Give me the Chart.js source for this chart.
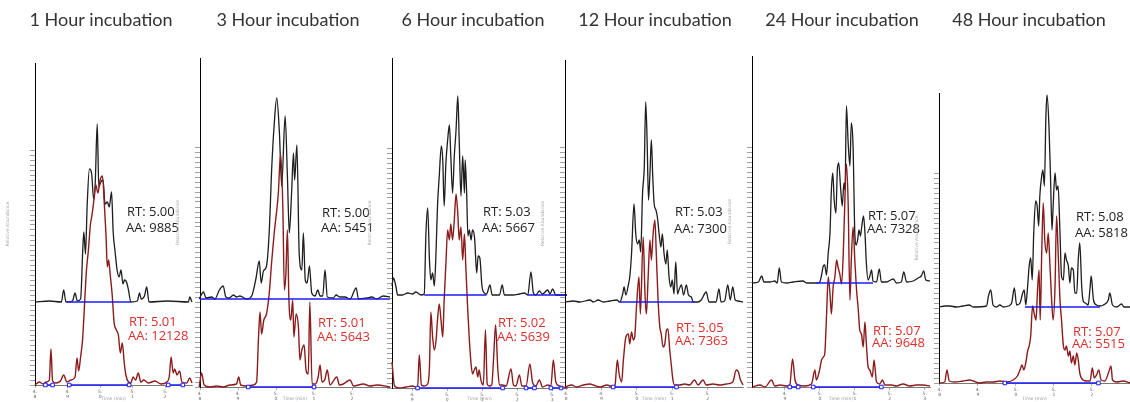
<!DOCTYPE html>
<html>
<head>
<meta charset="utf-8">
<script src="https://cdn.jsdelivr.net/npm/chart.js@4.4.1/dist/chart.umd.min.js"></script>
<style>
    html, body { margin: 0; padding: 0; background: #fff; overflow: hidden; }
    #wrap { position: relative; width: 1130px; height: 402px; overflow: hidden; }
    #wrap canvas { position: absolute; top: 0; }
</style>
</head>
<body>
<div id="wrap"></div>
<script>
// ---- data ----
const panelTitles = ['1 Hour incubation', '3 Hour incubation', '6 Hour incubation',
                     '12 Hour incubation', '24 Hour incubation', '48 Hour incubation'];
const rtBlack = ['5.00', '5.00', '5.03', '5.03', '5.07', '5.08'];
const aaBlack = ['9885', '5451', '5667', '7300', '7328', '5818'];
const rtRed = ['5.01', '5.01', '5.02', '5.05', '5.07', '5.07'];
const aaRed = ['12128', '5643', '5639', '7363', '9648', '5515'];
const xTickLabels = ['4.8', '4.9', '5.0', '5.1', '5.2', '5.3'];

// time range (min) shown in each panel
const xRanges = [[4.80, 5.282], [4.80, 5.30], [4.842, 5.342], [4.797, 5.30], [4.806, 5.315], [4.798, 5.30]];

// traces: [time (min), intensity]
const p1Black = [[4.800,0],[4.844,1],[4.881,0],[4.888,12],[4.895,0],[4.915,1],[4.923,9],[4.930,1],[4.940,3],[4.947,55],[4.950,70],[4.955,48],[4.960,95],[4.967,133],[4.974,128],[4.980,103],[4.985,120],[4.991,178],[4.996,115],[5.002,120],[5.009,122],[5.015,98],[5.022,100],[5.028,95],[5.035,110],[5.040,70],[5.046,50],[5.052,32],[5.058,25],[5.064,32],[5.070,18],[5.075,22],[5.081,20],[5.087,12],[5.094,0],[5.114,1],[5.121,9],[5.126,3],[5.136,6],[5.143,15],[5.150,0],[5.207,1],[5.271,0],[5.275,5],[5.282,0]];
const p1Red = [[4.800,0],[4.813,3],[4.825,1],[4.834,3],[4.844,5],[4.849,36],[4.854,4],[4.864,2],[4.878,4],[4.888,10],[4.898,3],[4.911,5],[4.923,8],[4.929,27],[4.934,14],[4.940,28],[4.946,45],[4.952,80],[4.958,115],[4.964,135],[4.970,160],[4.975,170],[4.981,185],[4.987,200],[4.993,192],[5.000,205],[5.007,209],[5.013,180],[5.018,150],[5.022,118],[5.026,125],[5.031,110],[5.037,90],[5.043,62],[5.050,55],[5.056,50],[5.062,32],[5.068,42],[5.074,22],[5.079,10],[5.087,3],[5.094,2],[5.101,8],[5.109,5],[5.117,12],[5.125,3],[5.134,5],[5.148,2],[5.168,4],[5.187,1],[5.205,3],[5.212,8],[5.218,28],[5.224,12],[5.229,16],[5.236,10],[5.244,14],[5.251,3],[5.266,2],[5.275,7],[5.282,2]];

const p2Black = [[4.798,0],[4.809,7],[4.816,1],[4.831,2],[4.839,0],[4.851,9],[4.861,13],[4.868,2],[4.877,1],[4.888,4],[4.896,2],[4.905,3],[4.923,0],[4.936,3],[4.947,20],[4.956,38],[4.961,16],[4.967,28],[4.975,33],[4.982,66],[4.989,133],[4.995,173],[5.002,201],[5.009,166],[5.015,113],[5.024,183],[5.030,123],[5.035,66],[5.041,106],[5.046,146],[5.049,119],[5.055,154],[5.061,46],[5.068,29],[5.072,66],[5.077,19],[5.082,16],[5.088,33],[5.094,6],[5.103,3],[5.110,9],[5.116,3],[5.123,3],[5.129,29],[5.135,2],[5.151,1],[5.158,4],[5.168,2],[5.182,2],[5.195,0],[5.211,11],[5.217,0],[5.239,1],[5.252,2],[5.265,0],[5.282,3],[5.300,2]];
const p2Red = [[4.798,0],[4.804,14],[4.811,2],[4.826,0],[4.844,1],[4.861,0],[4.879,2],[4.896,3],[4.902,10],[4.907,2],[4.923,1],[4.940,2],[4.949,5],[4.954,50],[4.958,75],[4.962,53],[4.968,67],[4.975,73],[4.982,93],[4.989,127],[4.995,153],[5.000,170],[5.006,193],[5.012,233],[5.018,180],[5.022,97],[5.026,113],[5.030,157],[5.034,87],[5.039,67],[5.044,87],[5.047,50],[5.053,73],[5.059,60],[5.063,27],[5.068,37],[5.074,42],[5.079,17],[5.085,13],[5.089,85],[5.095,3],[5.103,3],[5.111,10],[5.116,22],[5.121,5],[5.129,8],[5.135,17],[5.142,2],[5.160,10],[5.167,2],[5.177,3],[5.195,7],[5.204,1],[5.230,3],[5.247,1],[5.265,2],[5.300,0]];

const p3Black = [[4.842,9],[4.846,17],[4.853,9],[4.858,0],[4.872,0],[4.887,2],[4.901,1],[4.910,3],[4.925,0],[4.934,1],[4.939,62],[4.944,87],[4.949,35],[4.953,15],[4.958,22],[4.963,9],[4.968,45],[4.972,89],[4.977,119],[4.983,149],[4.987,135],[4.991,89],[4.996,132],[5.001,155],[5.006,170],[5.010,139],[5.015,102],[5.020,139],[5.025,165],[5.030,199],[5.034,155],[5.039,99],[5.044,139],[5.049,102],[5.051,135],[5.055,105],[5.059,59],[5.063,65],[5.068,55],[5.072,65],[5.078,57],[5.084,22],[5.088,39],[5.093,37],[5.099,9],[5.106,2],[5.112,1],[5.122,10],[5.128,0],[5.149,0],[5.157,10],[5.163,0],[5.187,0],[5.206,1],[5.220,2],[5.230,0],[5.239,23],[5.246,2],[5.253,0],[5.263,4],[5.272,1],[5.287,5],[5.293,1],[5.301,6],[5.310,0],[5.342,0]];
const p3Red = [[4.842,26],[4.849,2],[4.863,0],[4.882,1],[4.901,2],[4.915,0],[4.920,33],[4.926,3],[4.934,2],[4.944,4],[4.949,21],[4.953,76],[4.958,51],[4.963,38],[4.968,48],[4.972,68],[4.977,84],[4.982,68],[4.987,51],[4.991,88],[4.996,124],[5.001,158],[5.006,148],[5.010,164],[5.015,148],[5.020,168],[5.025,194],[5.030,174],[5.034,148],[5.039,161],[5.044,128],[5.049,154],[5.053,121],[5.058,81],[5.063,48],[5.068,24],[5.072,14],[5.077,18],[5.082,21],[5.087,11],[5.091,18],[5.096,8],[5.103,3],[5.109,58],[5.114,4],[5.120,2],[5.127,3],[5.132,28],[5.138,63],[5.144,21],[5.149,3],[5.158,3],[5.168,2],[5.182,19],[5.189,3],[5.196,2],[5.206,13],[5.213,2],[5.225,2],[5.236,24],[5.244,5],[5.253,2],[5.263,8],[5.272,1],[5.287,3],[5.296,2],[5.303,28],[5.310,6],[5.320,2],[5.342,0]];

const p4Black = [[4.797,0],[4.821,1],[4.839,0],[4.868,2],[4.877,0],[4.891,2],[4.905,0],[4.924,1],[4.943,2],[4.952,0],[4.960,8],[4.964,15],[4.969,7],[4.976,17],[4.980,25],[4.985,48],[4.992,98],[4.997,68],[5.002,58],[5.007,62],[5.011,50],[5.016,108],[5.021,135],[5.025,200],[5.029,162],[5.033,102],[5.037,128],[5.041,162],[5.045,125],[5.049,98],[5.054,92],[5.058,85],[5.063,68],[5.068,55],[5.072,68],[5.077,48],[5.082,38],[5.086,52],[5.091,25],[5.096,15],[5.100,22],[5.105,8],[5.110,40],[5.115,8],[5.119,12],[5.126,17],[5.132,7],[5.140,17],[5.146,7],[5.154,5],[5.159,0],[5.173,0],[5.182,2],[5.196,10],[5.204,0],[5.224,0],[5.232,13],[5.238,0],[5.248,1],[5.257,17],[5.264,2],[5.271,15],[5.278,2],[5.285,1],[5.300,0]];
const p4Red = [[4.797,0],[4.816,2],[4.830,0],[4.849,2],[4.868,3],[4.877,2],[4.896,0],[4.915,2],[4.933,0],[4.938,1],[4.945,27],[4.950,13],[4.957,5],[4.962,27],[4.969,50],[4.976,53],[4.980,43],[4.985,55],[4.990,47],[4.994,50],[4.999,80],[5.006,110],[5.010,73],[5.018,150],[5.023,93],[5.027,73],[5.032,110],[5.037,147],[5.041,127],[5.046,153],[5.051,167],[5.055,133],[5.060,87],[5.065,60],[5.069,53],[5.074,40],[5.079,43],[5.084,57],[5.088,58],[5.093,37],[5.098,20],[5.102,7],[5.107,2],[5.121,2],[5.135,3],[5.149,2],[5.163,7],[5.173,2],[5.187,7],[5.196,2],[5.215,3],[5.234,2],[5.253,3],[5.271,5],[5.281,17],[5.287,15],[5.292,8],[5.300,2]];

const p5Black = [[4.807,0],[4.824,1],[4.834,7],[4.840,1],[4.857,1],[4.871,2],[4.878,0],[4.884,15],[4.890,1],[4.905,0],[4.924,1],[4.952,2],[4.962,0],[4.990,0],[5.000,1],[5.005,8],[5.010,17],[5.014,18],[5.019,8],[5.024,30],[5.029,50],[5.033,93],[5.037,110],[5.041,83],[5.046,70],[5.050,113],[5.054,120],[5.059,97],[5.064,77],[5.069,100],[5.072,93],[5.076,177],[5.081,140],[5.086,117],[5.090,160],[5.095,137],[5.100,50],[5.104,38],[5.108,43],[5.112,53],[5.116,47],[5.120,57],[5.125,67],[5.129,50],[5.133,20],[5.138,3],[5.143,7],[5.148,13],[5.152,2],[5.162,1],[5.170,14],[5.176,1],[5.190,1],[5.210,4],[5.219,0],[5.233,1],[5.240,11],[5.248,1],[5.267,2],[5.281,5],[5.290,7],[5.297,12],[5.303,3],[5.315,2]];
const p5Red = [[4.807,0],[4.829,2],[4.843,0],[4.862,7],[4.871,1],[4.886,2],[4.905,1],[4.914,2],[4.922,28],[4.929,7],[4.938,2],[4.957,1],[4.976,3],[4.986,17],[4.990,7],[4.998,15],[5.005,27],[5.010,30],[5.014,33],[5.019,70],[5.024,110],[5.029,93],[5.033,73],[5.038,100],[5.043,110],[5.048,127],[5.052,120],[5.057,113],[5.062,103],[5.067,133],[5.071,180],[5.076,223],[5.081,183],[5.086,87],[5.090,127],[5.095,160],[5.100,127],[5.105,97],[5.110,77],[5.114,57],[5.119,53],[5.124,40],[5.129,65],[5.133,43],[5.138,20],[5.143,17],[5.150,10],[5.155,27],[5.162,5],[5.171,3],[5.179,7],[5.186,2],[5.205,2],[5.219,1],[5.238,3],[5.257,1],[5.276,2],[5.295,2],[5.315,1]];

const p6Black = [[4.798,0],[4.813,1],[4.826,1],[4.844,0],[4.861,1],[4.877,2],[4.888,0],[4.923,1],[4.928,11],[4.934,17],[4.940,2],[4.949,0],[4.958,2],[4.967,0],[4.980,1],[4.989,4],[4.996,19],[5.002,2],[5.011,4],[5.018,14],[5.022,17],[5.026,2],[5.031,21],[5.035,41],[5.039,49],[5.043,27],[5.047,74],[5.052,106],[5.056,101],[5.060,81],[5.063,111],[5.068,131],[5.071,137],[5.075,121],[5.079,191],[5.082,212],[5.087,181],[5.091,131],[5.095,77],[5.098,101],[5.103,134],[5.107,117],[5.111,121],[5.116,74],[5.120,31],[5.125,27],[5.129,54],[5.133,47],[5.138,41],[5.142,24],[5.146,39],[5.151,37],[5.155,14],[5.160,14],[5.164,47],[5.168,64],[5.173,21],[5.177,6],[5.183,4],[5.190,2],[5.195,19],[5.198,31],[5.204,7],[5.212,2],[5.221,1],[5.230,2],[5.243,7],[5.247,14],[5.254,2],[5.265,0],[5.278,3],[5.284,0],[5.300,0]];
const p6Red = [[4.798,0],[4.813,1],[4.819,13],[4.825,2],[4.839,1],[4.861,2],[4.879,3],[4.888,2],[4.905,0],[4.923,1],[4.940,1],[4.958,2],[4.975,1],[4.993,3],[5.004,7],[5.011,13],[5.016,18],[5.021,13],[5.026,20],[5.031,32],[5.035,37],[5.039,47],[5.044,77],[5.048,70],[5.053,63],[5.057,93],[5.061,113],[5.064,63],[5.068,130],[5.072,180],[5.076,143],[5.081,130],[5.085,150],[5.089,123],[5.094,83],[5.098,63],[5.103,97],[5.107,167],[5.111,133],[5.116,83],[5.120,63],[5.125,37],[5.129,33],[5.133,37],[5.138,27],[5.142,32],[5.146,20],[5.151,27],[5.155,18],[5.160,30],[5.164,23],[5.168,10],[5.177,3],[5.186,2],[5.195,2],[5.201,15],[5.206,5],[5.212,8],[5.218,13],[5.224,3],[5.234,2],[5.245,12],[5.250,17],[5.254,3],[5.265,1],[5.282,2],[5.300,0]];

// integration baselines: [start, end] in min
const blackBaselines = [
    [[4.898, 5.094]],
    [[4.80, 5.30]],
    [[4.934, 5.112], [5.230, 5.342]],
    [[4.952, 5.163]],
    [[4.990, 5.152]],
    [[5.024, 5.221]]
];
const redBaselines = [
    [[4.832, 4.854], [4.905, 5.089], [5.209, 5.254]],
    [[4.927, 5.100]],
    [[4.915, 5.158], [5.225, 5.249], [5.296, 5.325]],
    [[4.933, 5.112]],
    [[4.914, 4.938], [4.981, 5.176]],
    [[4.971, 5.217]]
];

const blackTraces = [p1Black, p2Black, p3Black, p4Black, p5Black, p6Black];
const redTraces = [p1Red, p2Red, p3Red, p4Red, p5Red, p6Red];

// ---- page layout (pixels) ----
const panelBox = [
    { axisX: 35,  top: 63, blackBase: 302, redBase: 385, right: 197,  titleX: 101,  noteB: [127, 212, 228], noteR: [129, 322, 336] },
    { axisX: 200, top: 58, blackBase: 299, redBase: 387, right: 390,  titleX: 288,  noteB: [322, 213, 228], noteR: [318, 323, 337] },
    { axisX: 392, top: 58, blackBase: 295, redBase: 388, right: 567,  titleX: 473,  noteB: [483, 212, 228], noteR: [498, 323, 337] },
    { axisX: 565, top: 60, blackBase: 302, redBase: 387, right: 743,  titleX: 655,  noteB: [675, 212, 229], noteR: [676, 328, 341] },
    { axisX: 752, top: 56, blackBase: 283, redBase: 387, right: 930,  titleX: 842,  noteB: [868, 216, 229], noteR: [873, 331, 343] },
    { axisX: 939, top: 93, blackBase: 307, redBase: 383, right: 1130, titleX: 1029, noteB: [1076, 217, 233], noteR: [1073, 332, 344] }
];
const H = 402;

Chart.defaults.font.family = 'Lato';

/**
 * turns [start, end] pairs into line points with a gap between segments
 */
function segments_to_points(segs) {
    let pts = [];
    for (let s of segs) {
        pts.push({x: s[0], y: 0}, {x: s[1], y: 0}, {x: s[1], y: null});
    }
    return pts;
}

// draws the RT / AA notes next to the peaks
const notePlugin = {
    id: 'notes',
    afterDatasetsDraw(chart, args, opts) {
        const ctx = chart.ctx;
        ctx.save();
        ctx.font = '13px "Open Sans"';
        ctx.textBaseline = 'middle';
        ctx.textAlign = 'left';
        for (let l of opts.lines) {
            ctx.fillStyle = l.color;
            ctx.fillText(l.text, l.x - opts.offset, l.y);
        }
        ctx.restore();
    }
};

const wrap = document.getElementById('wrap');

for (let i = 0; i < 6; i++) {
    const box = panelBox[i];
    // canvas spans so that the title is centred on titleX
    let cl = box.axisX - 25;
    let cr = 2 * box.titleX - cl;
    if (cr < box.right) {
        cr = box.right;
        cl = 2 * box.titleX - cr;
    }
    const yW = box.axisX - cl;
    const padR = cr - box.right;

    const canv = document.createElement('canvas');
    canv.width = cr - cl;
    canv.height = H;
    canv.style.left = cl + 'px';
    canv.style.width = (cr - cl) + 'px';
    canv.style.height = H + 'px';
    wrap.appendChild(canv);

    const notes = [
        {text: 'RT: ' + rtBlack[i], x: box.noteB[0], y: box.noteB[1], color: '#222'},
        {text: 'AA: ' + aaBlack[i], x: box.noteB[0] - 1, y: box.noteB[2], color: '#222'},
        {text: 'RT: ' + rtRed[i], x: box.noteR[0], y: box.noteR[1], color: '#dd2e2a'},
        {text: 'AA: ' + aaRed[i], x: box.noteR[0] - 1, y: box.noteR[2], color: '#dd2e2a'}
    ];

    new Chart(canv.getContext('2d'), {
        type: 'line',
        data: {
            datasets: [{
                data: segments_to_points(redBaselines[i]),
                yAxisID: 'y',
                borderColor: '#1a1aff',
                borderWidth: 1.6,
                pointStyle: 'rect',
                pointRadius: 2.5,
                pointBorderColor: '#1a1aff',
                pointBackgroundColor: '#fff',
                pointBorderWidth: 1,
                spanGaps: false,
                clip: 6,
                order: 0
            }, {
                data: segments_to_points(blackBaselines[i]),
                yAxisID: 'yB',
                borderColor: '#1a1aff',
                borderWidth: 1.3,
                pointRadius: 0,
                spanGaps: false,
                clip: 4,
                order: 0
            }, {
                data: redTraces[i].map(p => ({x: p[0], y: p[1]})),
                yAxisID: 'y',
                borderColor: '#8c1c1c',
                borderWidth: 1.4,
                pointRadius: 0,
                cubicInterpolationMode: 'monotone',
                clip: 4,
                order: 1
            }, {
                data: blackTraces[i].map(p => ({x: p[0], y: p[1]})),
                yAxisID: 'yB',
                borderColor: '#1e1e1e',
                borderWidth: 1.3,
                pointRadius: 0,
                cubicInterpolationMode: 'monotone',
                clip: 4,
                order: 2
            }]
        },
        options: {
            responsive: false,
            animation: false,
            events: [],
            layout: { padding: 0 },
            plugins: {
                legend: { display: false },
                tooltip: { enabled: false },
                title: {
                    display: true,
                    text: panelTitles[i],
                    color: '#333',
                    font: { family: 'Lato', size: 18, weight: 'normal' },
                    padding: { top: 9, bottom: box.top - 9 - 21.6 }
                },
                notes: { lines: notes, offset: cl }
            },
            scales: {
                x: {
                    type: 'linear',
                    min: xRanges[i][0],
                    max: xRanges[i][1],
                    afterBuildTicks: (s) => {
                        s.ticks = xTickLabels.map(Number)
                            .filter(v => v >= s.min - 0.003 && v <= s.max - 0.01)
                            .map(v => ({value: v}));
                    },
                    afterFit: (s) => { s.height = H - box.redBase; },
                    ticks: {
                        autoSkip: false,
                        maxRotation: 0,
                        minRotation: 0,
                        padding: 1,
                        color: '#666',
                        font: { family: 'DejaVu Sans', size: 4.5 },
                        callback: function(value) {
                            let lbl = xTickLabels.find(t => Math.abs(Number(t) - value) < 0.001) || '';
                            return [lbl.slice(0, 2), lbl.slice(2)];
                        }
                    },
                    grid: { drawOnChartArea: false, tickLength: 3, color: '#777', lineWidth: 0.6 },
                    border: { color: '#555', width: 0.8 },
                    title: {
                        display: true,
                        text: 'Time (min)',
                        color: '#999',
                        font: { family: 'DejaVu Sans', size: 4.5 },
                        padding: 0
                    }
                },
                y: {
                    position: 'left',
                    min: 0,
                    max: box.redBase - box.top,
                    afterBuildTicks: (s) => {
                        s.ticks = s.ticks.filter(t => t.value <= s.max * 0.74);
                    },
                    afterFit: (s) => { s.width = yW; },
                    ticks: { display: false, stepSize: 5 },
                    grid: { drawOnChartArea: false, tickLength: 5, color: '#777', lineWidth: 0.7 },
                    border: { color: '#000', width: 1 },
                    title: {
                        display: true,
                        text: 'Relative Abundance',
                        color: '#aaa',
                        font: { family: 'DejaVu Sans', size: 4.5 },
                        padding: 0
                    }
                },
                yB: {
                    position: 'right',
                    min: -(box.redBase - box.blackBase),
                    max: box.blackBase - box.top,
                    afterFit: (s) => { s.width = padR; },
                    ticks: { display: false },
                    grid: { display: false },
                    border: { display: false }
                }
            }
        },
        plugins: [notePlugin]
    });
}
</script>
</body>
</html>
